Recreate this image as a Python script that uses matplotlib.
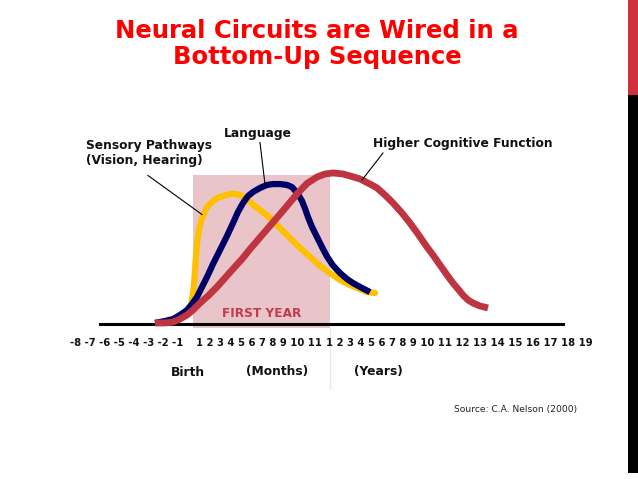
import matplotlib
matplotlib.use("Agg")
import matplotlib.pyplot as plt
from matplotlib.patches import Rectangle

# curves: horizontal position along the timeline, relative development level (0 = baseline)
sensory_x = [191, 192, 194, 195, 197, 199, 202, 207, 212, 217, 223, 230, 235, 240, 245,
             250, 260, 270, 280, 290, 300, 310, 320, 330, 340, 350, 360, 367, 375]
sensory_y = [0.127, 0.16, 0.26, 0.36, 0.54, 0.627, 0.707, 0.78, 0.813, 0.84, 0.853, 0.867,
             0.867, 0.86, 0.84, 0.813, 0.76, 0.707, 0.64, 0.573, 0.507, 0.447, 0.387, 0.34,
             0.293, 0.26, 0.233, 0.213, 0.207]

language_x = [155, 165, 173, 180, 187, 192, 197, 202, 207, 213, 220, 227, 233, 238, 243,
              248, 253, 260, 267, 273, 280, 287, 292, 295, 299, 302, 305, 308, 312, 317,
              322, 327, 333, 340, 347, 353, 362, 370]
language_y = [0.007, 0.02, 0.033, 0.06, 0.093, 0.133, 0.18, 0.247, 0.313, 0.4, 0.493, 0.587,
              0.673, 0.747, 0.807, 0.853, 0.88, 0.907, 0.927, 0.933, 0.933, 0.927, 0.913,
              0.89, 0.855, 0.82, 0.77, 0.713, 0.647, 0.58, 0.513, 0.45, 0.39, 0.34,
              0.3, 0.273, 0.24, 0.213]

higher_x = [155, 165, 173, 180, 187, 193, 200, 208, 217, 225, 233, 242, 251, 263, 275, 287,
            297, 307, 317, 325, 333, 343, 350, 360, 370, 377, 385, 393, 402, 410, 418, 427,
            433, 440, 447, 453, 458, 463, 468, 473, 480, 488]
higher_y = [0.007, 0.007, 0.013, 0.033, 0.06, 0.093, 0.14, 0.187, 0.247, 0.307, 0.367, 0.433,
            0.507, 0.6, 0.693, 0.787, 0.867, 0.937, 0.98, 1.0, 1.007, 1.0, 0.987, 0.967,
            0.933, 0.907, 0.86, 0.807, 0.74, 0.673, 0.6, 0.513, 0.46, 0.393, 0.327, 0.273,
            0.233, 0.193, 0.16, 0.14, 0.12, 0.107]

prenatal = ["-8", "-7", "-6", "-5", "-4", "-3", "-2", "-1"]
months = [str(m) for m in range(1, 12)]
years = [str(y) for y in range(1, 20)]

title = "Neural Circuits are Wired in a\nBottom-Up Sequence"
source = "Source: C.A. Nelson (2000)"

fig = plt.figure(figsize=(6.38, 4.79), dpi=100)
ax = fig.add_axes([0, 0, 1, 1])
ax.set_xlim(0, 638)
ax.set_ylim(-155 / 150, 324 / 150)
ax.axis("off")

# first year band
ax.add_patch(Rectangle((193, -0.027), 137, 1.02, color="#e9c5c9", zorder=1, lw=0))
ax.plot([330, 330], [-0.027, -0.43], color="#ece6e6", lw=1, zorder=1)
ax.text(261.5, 0.067, "FIRST YEAR", color="#c23b4b", fontsize=8.7, fontweight="bold",
        ha="center", va="center", zorder=2)

# baseline
ax.plot([100, 563], [0, 0], color="black", lw=2.2, zorder=2)

ax.plot(sensory_x, sensory_y, color="#ffc000", lw=4.5, solid_capstyle="round",
        solid_joinstyle="round", zorder=3)
ax.plot(language_x, language_y, color="#000066", lw=4.5, solid_capstyle="butt",
        solid_joinstyle="round", zorder=4)
ax.plot(higher_x, higher_y, color="#be3440", lw=4.9, solid_capstyle="butt",
        solid_joinstyle="round", zorder=5)

lab = dict(fontsize=8.8, fontweight="bold", color="#111111")
ax.text(86, 1.14, "Sensory Pathways\n(Vision, Hearing)", ha="left", va="center",
        linespacing=1.25, **lab)
ax.plot([148, 202], [0.99, 0.73], color="black", lw=0.8, zorder=6)
ax.text(258, 1.27, "Language", ha="center", va="center", **lab)
ax.plot([260, 265], [1.21, 0.93], color="black", lw=0.8, zorder=6)
ax.text(463, 1.2, "Higher Cognitive Function", ha="center", va="center", **lab)
ax.plot([383, 362], [1.14, 0.96], color="black", lw=0.8, zorder=6)

tick = dict(fontsize=7.2, fontweight="bold", color="#111111", ha="left", va="center")
ax.text(70, -0.127, " ".join(prenatal), **tick)
ax.text(195.5, -0.127, " ".join(months), **tick)
ax.text(326.5, -0.127, " ".join(years), **tick)

ax.text(188, -0.32, "Birth", ha="center", va="center", **lab)
ax.text(277, -0.32, "(Months)", ha="center", va="center", **lab)
ax.text(378, -0.32, "(Years)", ha="center", va="center", **lab)
ax.text(577, -0.57, source, ha="right", va="center", fontsize=6.6, color="#222222")

fig.text(317 / 638, 1 - 44 / 479, title, ha="center", va="center", fontsize=17.5,
         fontweight="heavy", color="#ff0000", linespacing=1.08)

# right edge bar
fig.add_artist(Rectangle((628 / 638, 1 - 95 / 479), 10 / 638, 95 / 479,
                         transform=fig.transFigure, color="#d0313c", lw=0))
fig.add_artist(Rectangle((628 / 638, 6 / 479), 10 / 638, (473 - 95) / 479,
                         transform=fig.transFigure, color="black", lw=0))

fig.savefig("out.png", dpi=100)
